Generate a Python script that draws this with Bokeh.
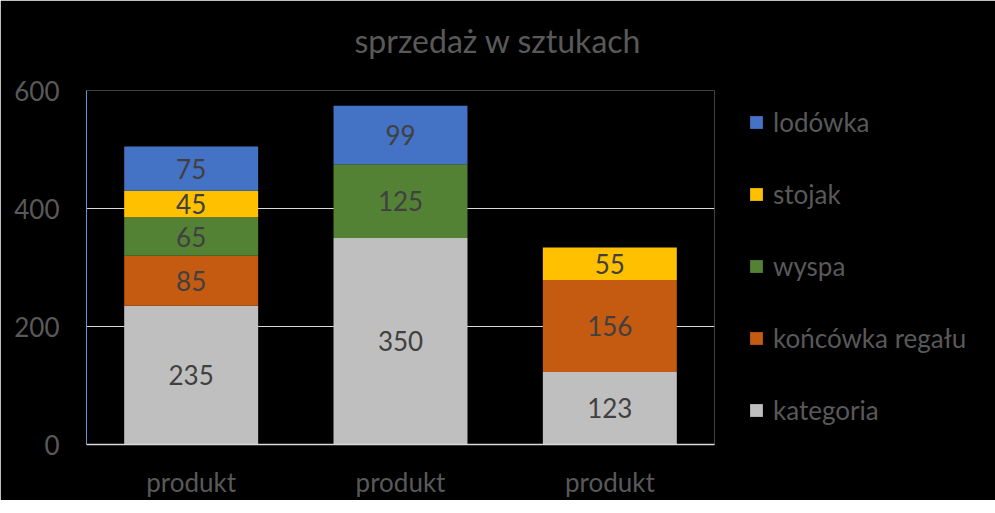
from bokeh.plotting import figure
from bokeh.models import (ColumnDataSource, Range1d, FixedTicker, Legend, LegendItem,
                          LabelSet, Title)
from bokeh.core.properties import value
from bokeh.embed import file_html
from bokeh.resources import INLINE

# ---- data ----
categories = ["produkt", "produkt", "produkt"]
series = ["kategoria", "końcówka regału", "wyspa", "stojak", "lodówka"]
kategoria = [235, 350, 123]
koncowka = [85, 0, 156]
wyspa = [65, 125, 0]
stojak = [45, 0, 55]
lodowka = [75, 99, 0]
colors = ["#BFBFBF", "#C55A11", "#548235", "#FFC000", "#4472C4"]
y_ticks = [0, 200, 400, 600]

values = [kategoria, koncowka, wyspa, stojak, lodowka]
xpos = [i + 0.5 for i in range(len(categories))]

FONT = "Lato"
TXT = "#595959"
FS = "26px"

p = figure(frame_width=628, frame_height=354, output_backend="svg", toolbar_location=None,
           x_range=Range1d(0, 3), y_range=Range1d(0, 600),
           background_fill_color="black", border_fill_color="black",
           outline_line_color=None, min_border_left=86, min_border_right=265,
           min_border_top=90, min_border_bottom=53, title=None)

renderers = []
bottoms = [0, 0, 0]
label_x, label_y, label_t = [], [], []
for name, vals, col in zip(series, values, colors):
    tops = [b + v for b, v in zip(bottoms, vals)]
    src = ColumnDataSource(dict(x=xpos, bottom=bottoms, top=tops))
    r = p.vbar(x="x", bottom="bottom", top="top", width=0.64, source=src,
               fill_color=col, line_color=None)
    renderers.append((name, r))
    for x, b, v in zip(xpos, bottoms, vals):
        if v > 0:
            label_x.append(x)
            label_y.append(b + v / 2)
            label_t.append(str(v))
    bottoms = tops

lsrc = ColumnDataSource(dict(x=label_x, y=label_y, t=label_t))
p.add_layout(LabelSet(x="x", y="y", text="t", source=lsrc, text_align="center",
                      text_baseline="middle", text_color="#404040",
                      text_font=value(FONT), text_font_size=value(FS)))

# axes
p.xaxis.ticker = FixedTicker(ticks=xpos)
p.xaxis.major_label_overrides = {x: c for x, c in zip(xpos, categories)}
p.yaxis.ticker = FixedTicker(ticks=y_ticks)
for ax in (p.xaxis[0], p.yaxis[0]):
    ax.major_tick_line_color = None
    ax.minor_tick_line_color = None
    ax.major_label_text_color = TXT
    ax.major_label_text_font = FONT
    ax.major_label_text_font_size = FS
p.xaxis.axis_line_color = "#D9D9D9"
p.xaxis.axis_line_width = 1.5
p.yaxis.axis_line_color = "#5B9BD5"
p.yaxis.axis_line_width = 1
p.xaxis.major_label_standoff = 15
p.yaxis.major_label_standoff = 21

p.xgrid.grid_line_color = None
p.ygrid.grid_line_color = "#D9D9D9"
p.ygrid.grid_line_width = 1

# legend (top item = last series), to the right of the frame
items = [LegendItem(label=n, renderers=[r]) for n, r in reversed(renderers)]
legend = Legend(items=items, location=(34, 18), orientation="vertical",
                background_fill_alpha=0, border_line_color=None,
                label_text_color=TXT, label_text_font=FONT,
                label_text_font_size=FS, glyph_width=16, glyph_height=16,
                label_height=31, spacing=40, label_standoff=9,
                margin=0, padding=0)
p.add_layout(legend, "right")

# title (blank second line lifts it away from the plot area)
p.add_layout(Title(text="sprzedaż w sztukach\n ", align="left", offset=268,
                   text_color=TXT, text_font=FONT, text_font_size="32px",
                   text_font_style="normal", text_line_height=0.78,
                   standoff=0), "above")

open("out.html", "w").write(file_html(p, INLINE))
